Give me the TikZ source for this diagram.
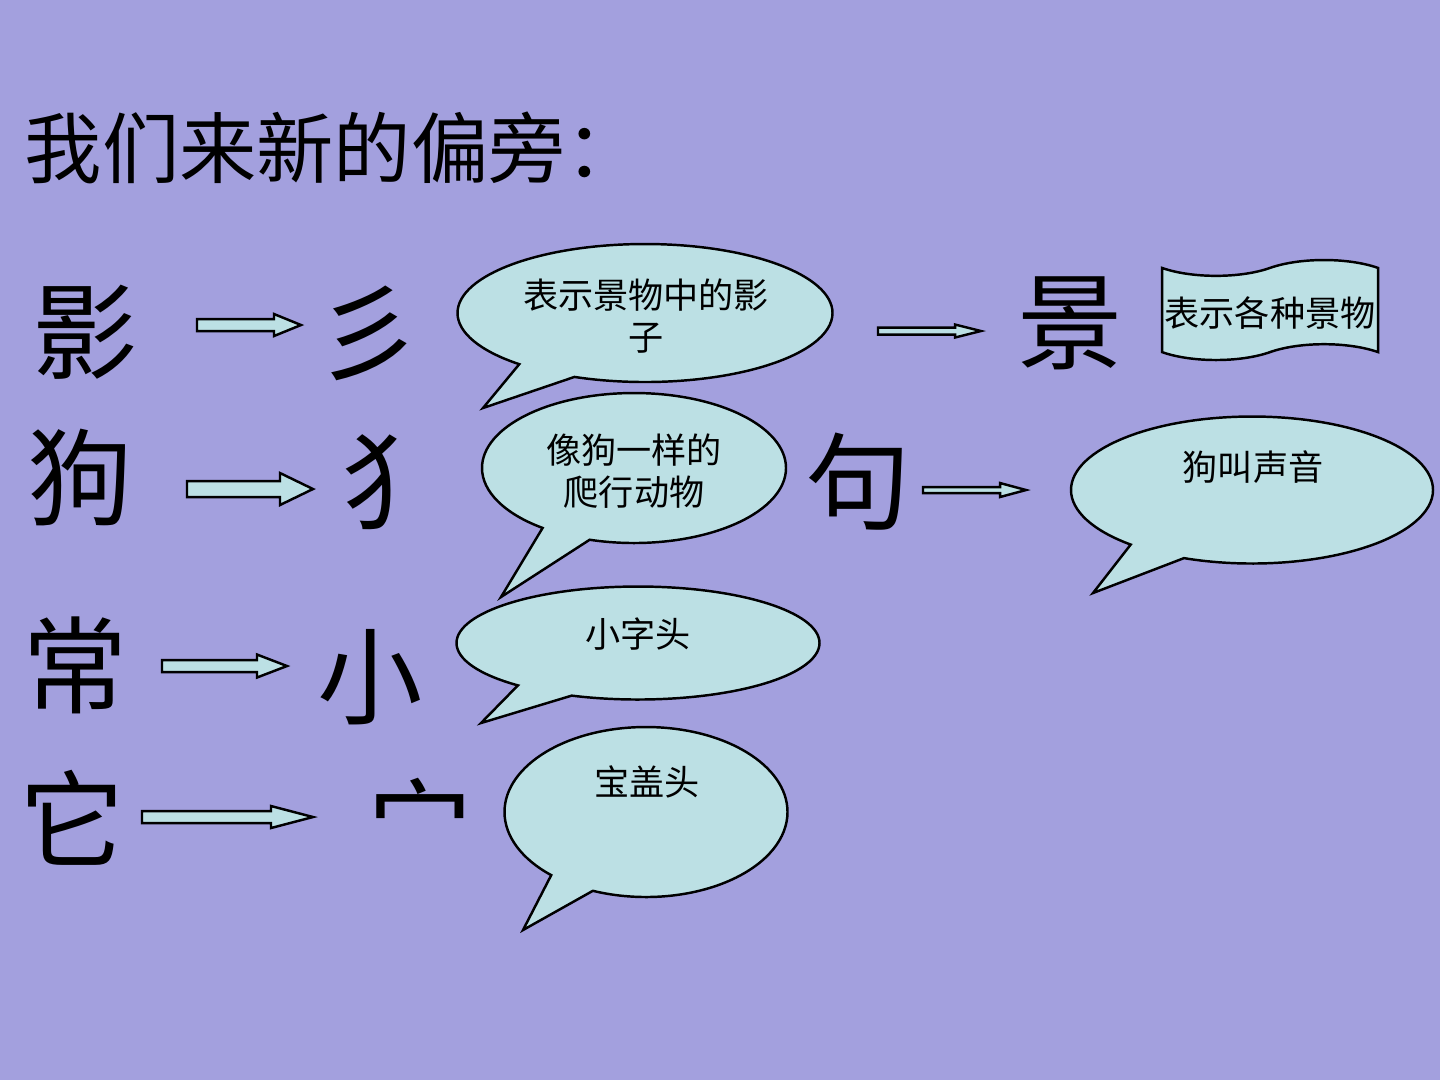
\documentclass[tikz,border=0pt]{standalone}
\usepackage{fontspec}
\setmainfont{Noto Sans CJK SC}
\usetikzlibrary{shapes.callouts,shapes.symbols}

\definecolor{slidebg}{RGB}{163,160,222}
\definecolor{bubblefill}{RGB}{188,224,228}

% block arrow: start x, head base x, tip x, centre y, shaft half height, head half height
\newcommand{\blockarrow}[6]{%
  \draw[arrowbody] (#1,#4-#5) -- (#2,#4-#5) -- (#2,#4-#6) -- (#3,#4)
    -- (#2,#4+#6) -- (#2,#4+#5) -- (#1,#4+#5) -- cycle;}

\tikzset{
  arrowbody/.style={draw=black, fill=bubblefill, line width=0.7pt, line join=miter},
  bubble/.style={ellipse callout, draw=black, fill=bubblefill, line width=0.7pt,
    inner sep=0pt, outer sep=0pt, callout pointer arc=20},
  note/.style={align=center, inner sep=0pt, font=\fontsize{10pt}{12pt}\selectfont},
  bigchar/.style={inner sep=0pt, font=\fontsize{30pt}{32pt}\selectfont},
}

\begin{document}
\begin{tikzpicture}[x=0.1mm, y=-0.1mm]

    % slide background
    \fill[slidebg] (0,0) rectangle (1440,1080);
    \useasboundingbox (0,0) rectangle (1440,1080);

    % title
    \node[anchor=west, inner sep=0pt, font=\fontsize{22pt}{26pt}\selectfont] (title) at (24,148) {我们来新的偏旁：};

    % first row
    \node[bigchar] (ying) at (85,332) {影};
    \blockarrow{197}{274}{301}{325}{6}{11}
    \node[bigchar] (shan) at (368,333) {彡};
    \node[bubble, minimum width=37.5mm, minimum height=13.8mm,
      callout absolute pointer={(483,408)}] (b1) at (645,313) {};
    \node[note] (t1) at (646,316) {表示景物中的影\\子};
    \blockarrow{878}{955}{981}{331}{3.5}{6.5}
    \node[bigchar] (jing) at (1070,323) {景};
    \node[tape, draw=black, fill=bubblefill, line width=0.7pt, inner sep=0pt,
      minimum width=21.6mm, minimum height=10mm, tape bend height=4.5pt] (tape) at (1270,310) {};
    \node[note] (t2) at (1270,313) {表示各种景物};

    % second row
    \node[bigchar] (gou) at (80,478) {狗};
    \blockarrow{187}{280}{313}{489}{8}{16}
    \node[bigchar] (quan) at (394,482) {犭};
    \node[bubble, minimum width=30.4mm, minimum height=15mm,
      callout absolute pointer={(501,597)}] (b2) at (634,468) {};
    \node[note] (t3) at (634,471) {像狗一样的\\爬行动物};
    \node[bigchar] (ju) at (858,482) {句};
    \blockarrow{923}{1000}{1026}{490}{3}{7}
    \node[bubble, minimum width=36.2mm, minimum height=14.7mm,
      callout absolute pointer={(1093,593)}] (b3) at (1252,490) {};
    \node[note] (t4) at (1253,467) {狗叫声音};

    % third row
    \node[bigchar] (chang) at (75,665) {常};
    \blockarrow{162}{257}{287}{666}{6}{11.5}
    \node[bigchar] (xiao) at (370,677) {小};
    \node[bubble, minimum width=36.3mm, minimum height=11.3mm,
      callout absolute pointer={(481,723)}] (b4) at (638,643) {};
    \node[note] (t5) at (638,634) {小字头};

    % fourth row
    \node[bigchar] (ta) at (72,818) {它};
    \blockarrow{142}{271}{313}{817}{6}{11}
    \node[bigchar] (mian) at (420,822) {宀};
    \node[bubble, minimum width=28.3mm, minimum height=17mm,
      callout absolute pointer={(523,930)}] (b5) at (646,812) {};
    \node[note] (t6) at (647,782) {宝盖头};

\end{tikzpicture}
\end{document}
